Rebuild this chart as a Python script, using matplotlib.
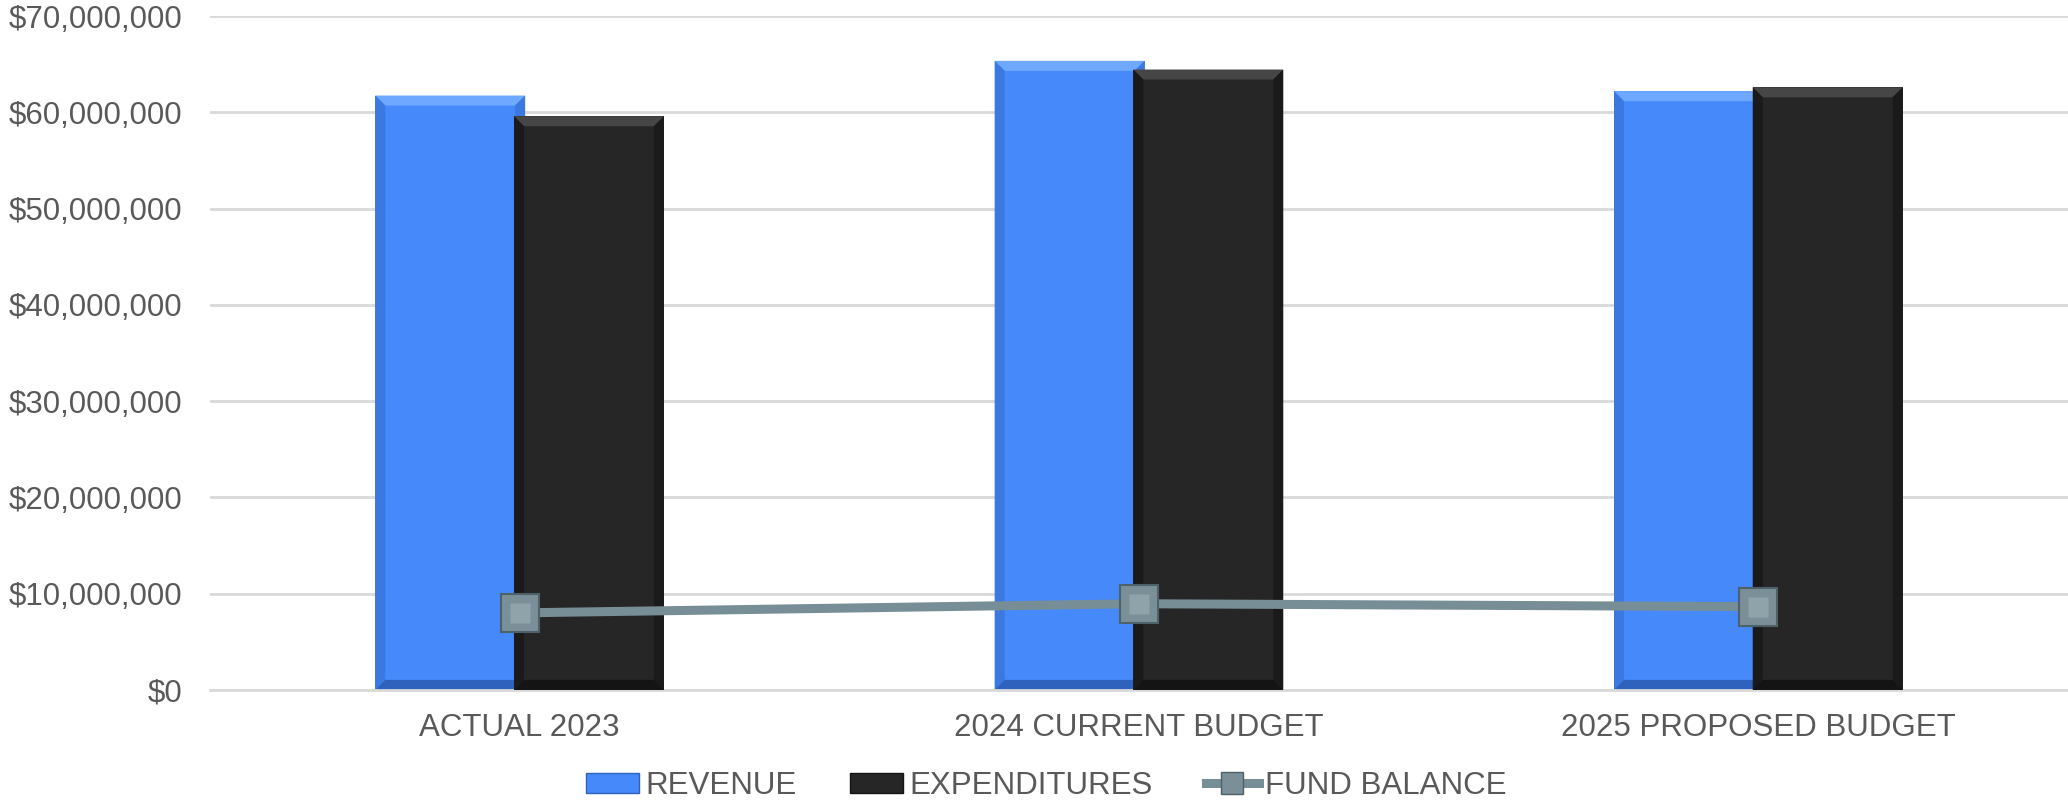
import numpy as np
import matplotlib
matplotlib.use("Agg")
import matplotlib.pyplot as plt
from matplotlib.patches import Polygon, Patch
from matplotlib.lines import Line2D
from matplotlib.transforms import IdentityTransform

# --- data ---
categories = ["ACTUAL 2023", "2024 CURRENT BUDGET", "2025 PROPOSED BUDGET"]
revenue = [61_750_000, 65_350_000, 62_200_000]
expenditures = [59_600_000, 64_450_000, 62_600_000]
fund_balance = [8_000_000, 8_950_000, 8_650_000]
series_names = ["REVENUE", "EXPENDITURES", "FUND BALANCE"]

BLUE = "#4589fb"
BLACK = "#262626"
LINE = "#778e97"
TEXT = "#595959"
GRID = "#d9d9d9"

plt.rcParams["font.family"] = ["Liberation Sans", "DejaVu Sans"]

fig = plt.figure(figsize=(20.68, 8.05), dpi=100)
ax = fig.add_axes([0.1015, 0.143, 0.8985, 0.837])

x = np.arange(len(categories))
width = 0.242
offset = 0.112

bars_rev = ax.bar(x - offset, revenue, width, color=BLUE, zorder=2)
bars_exp = ax.bar(x + offset, expenditures, width, color=BLACK, zorder=3)

ax.plot(x, fund_balance, color=LINE, lw=6.5, zorder=5, solid_capstyle="butt")
ax.plot(x, fund_balance, ls="none", marker="s", ms=27, mfc="#7b8f98",
        mec="#4f6168", mew=1.5, zorder=6)
ax.plot(x, fund_balance, ls="none", marker="s", ms=15, mfc="#8fa3ab",
        mec="none", zorder=7)

ax.set_xlim(-0.5, 2.5)
ax.set_ylim(0, 70_000_000)
ax.set_yticks(np.arange(0, 70_000_001, 10_000_000))
ax.yaxis.set_major_formatter(matplotlib.ticker.FuncFormatter(lambda v, p: f"${v:,.0f}"))
ax.set_xticks(x)
ax.set_xticklabels(categories)
ax.tick_params(axis="both", length=0, labelsize=22.5, labelcolor=TEXT)
ax.tick_params(axis="y", pad=20)
ax.tick_params(axis="x", pad=17)
ax.grid(axis="y", color=GRID, lw=2, zorder=0)
ax.set_axisbelow(True)
for side in ["top", "right", "left"]:
    ax.spines[side].set_visible(False)
ax.spines["bottom"].set_color(GRID)
ax.spines["bottom"].set_linewidth(2)


# bevel look on each bar, computed from the bar rectangles
def bevel(rect, light, side, dark, b=10):
    x0, y0 = ax.transData.transform((rect.get_x(), rect.get_y()))
    x1, y1 = ax.transData.transform((rect.get_x() + rect.get_width(),
                                     rect.get_y() + rect.get_height()))
    z = rect.get_zorder() + 0.1
    parts = [
        ([(x0, y1), (x1, y1), (x1 - b, y1 - b), (x0 + b, y1 - b)], light),
        ([(x0, y0), (x0, y1), (x0 + b, y1 - b), (x0 + b, y0 + b)], side),
        ([(x1, y0), (x1, y1), (x1 - b, y1 - b), (x1 - b, y0 + b)], side),
        ([(x0, y0), (x1, y0), (x1 - b, y0 + b), (x0 + b, y0 + b)], dark),
    ]
    for pts, c in parts:
        ax.add_artist(Polygon(pts, closed=True, facecolor=c, edgecolor="none",
                              transform=IdentityTransform(), zorder=z))


for r in bars_rev:
    bevel(r, "#6fa8ff", "#3b78e0", "#2f62bd")
for r in bars_exp:
    bevel(r, "#464646", "#1a1a1a", "#141414")

handles = [
    Patch(facecolor=BLUE, edgecolor="#2f62bd"),
    Patch(facecolor=BLACK, edgecolor="#141414"),
    Line2D([0], [0], color=LINE, lw=6.5, marker="s", ms=16, mfc="#7b8f98", mec="#4f6168"),
]
fig.legend(handles, series_names, loc="center", bbox_to_anchor=(0.506, 0.024),
           ncol=3, frameon=False, fontsize=22.5, labelcolor=TEXT,
           handlelength=1.7, handleheight=0.6, handletextpad=0.2, columnspacing=1.7)

fig.savefig("out.png", dpi=100)
